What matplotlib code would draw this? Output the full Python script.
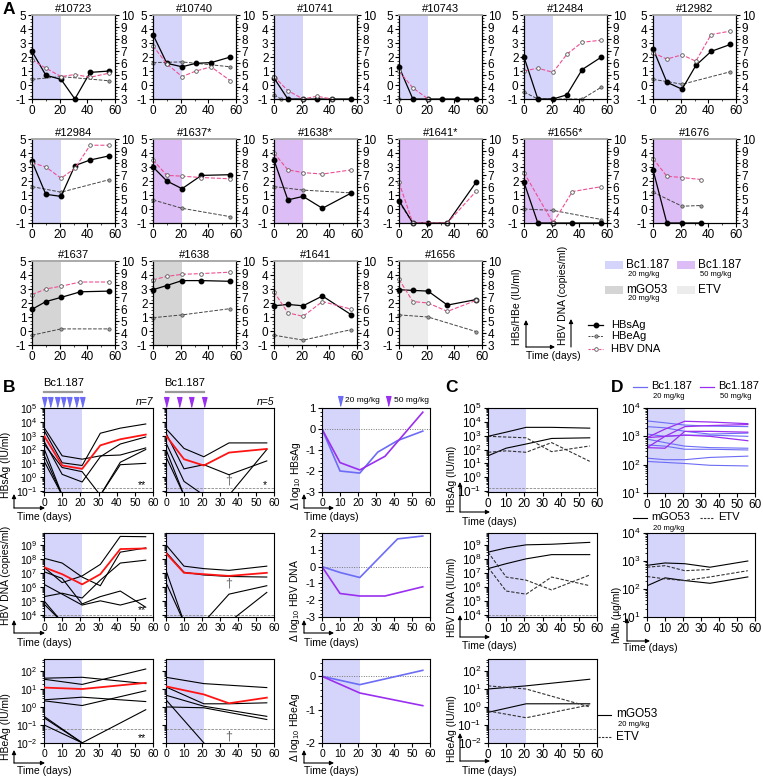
import numpy as np
import matplotlib
matplotlib.use('Agg')
import matplotlib.pyplot as plt
from matplotlib.patches import Rectangle
from matplotlib.ticker import MultipleLocator, LogLocator, NullFormatter, FixedLocator

plt.rcParams['font.family'] = ['Liberation Sans', 'DejaVu Sans']
plt.rcParams['mathtext.fontset'] = 'custom'
plt.rcParams['mathtext.rm'] = 'Liberation Sans'
plt.rcParams['mathtext.it'] = 'Liberation Sans:italic'
plt.rcParams['mathtext.bf'] = 'Liberation Sans:bold'
plt.rcParams['axes.unicode_minus'] = False
plt.rcParams['axes.linewidth'] = 0.8

nan = np.nan

# ---------------- panel A: single mice (log10 HBsAg/HBeAg left, log10 DNA right)
a_ids = ['#10723', '#10740', '#10741', '#10743', '#12484', '#12982',
         '#12984', '#1637*', '#1638*', '#1641*', '#1656*', '#1676',
         '#1637', '#1638', '#1641', '#1656']
a_group = ['b20'] * 7 + ['b50'] * 5 + ['mgo', 'mgo', 'etv', 'etv']
a_hbs_t = [[0, 10, 21, 31, 42, 56]] * 7 + [[0, 10, 21, 35, 56]] * 4 + [[0, 10, 21, 35]] + [[0, 10, 21, 35, 56]] * 4
a_hbs = [[2.4, 0.7, 0.4, -1, 0.9, 1.0],
         [3.6, 1.55, 1.3, 1.55, 1.6, 2.0],
         [0.5, -1, -1, -1, -1, -1],
         [1.3, -1, -1, -1, -1, -1],
         [2.0, -1, -1, -0.7, 1.1, 2.0],
         [2.6, 0.2, -0.3, 1.4, 2.4, 2.9],
         [3.4, 1.05, 0.9, 3.1, 3.5, 3.8],
         [3.0, 2.0, 1.45, 2.4, 2.45],
         [3.5, 0.65, 0.9, 0.05, 1.15],
         [0.6, -1, -1, -1, 1.95],
         [1.9, -1, -1, -1, -1],
         [2.8, -1, -1, -1],
         [1.55, 2.1, 2.4, 2.8, 2.85],
         [2.95, 3.25, 3.6, 3.6, 3.55],
         [1.8, 1.9, 1.8, 2.5, 1.15],
         [2.95, 2.9, 2.85, 1.85, 2.25]]
a_hbe_t = [[0, 21, 56], [0, 21, 56], [0, 5], [0], [0, 10, 42, 56], [0, 10, 21, 56],
           [0, 21, 56], [0, 21, 56], [0, 21, 56], [0, 10], [0, 21, 56], [0, 21, 35],
           [0, 21, 56], [0, 21, 56], [0, 21, 56], [0, 21, 56]]
a_hbe = [[0.4, 0.6, 0.3], [1.6, 1.65, 1.3], [-0.7, -1], [-1], [-0.5, -1, -1, -0.15],
         [0.4, 0.25, 0.05, 0.95], [1.6, 1.2, 2.1], [0.65, 0.05, -0.55], [1.6, 1.35, 1.15],
         [0.5, -1], [0.0, -0.1, -0.75], [1.2, 0.2, 0.25], [-0.3, 0.15, 0.15],
         [0.95, 1.15, 1.6], [-0.3, -0.65, 0.1], [1.15, 1.0, -0.05]]
a_dna_t = [[0, 10, 21, 31, 42, 56], [0, 10, 21, 31, 42, 56], [0, 10, 21, 31, 42], [0, 10, 21],
           [0, 10, 21, 31, 42, 56], [0, 10, 21, 31, 42, 56], [0, 10, 21, 31, 42, 56],
           [0, 10, 21, 35, 56], [0, 10, 21, 35, 56], [0, 10, 35, 56], [0, 21, 35, 56],
           [0, 10, 21, 35], [0, 10, 21, 35, 56], [0, 10, 21, 35, 56], [0, 10, 21, 35, 56],
           [0, 10, 21, 35, 56]]
a_dna = [[6.27, 5.57, 4.87, 5.04, 4.81, 5.16],
         [7.43, 5.92, 4.87, 5.33, 5.68, 4.52],
         [4.87, 3.7, 3.0, 3.23, 3.0],
         [5.33, 3.93, 3.0],
         [5.33, 5.57, 5.22, 6.73, 7.73, 7.9],
         [6.85, 6.33, 6.68, 6.15, 8.37, 8.66],
         [8.02, 7.67, 6.73, 7.55, 9.48, 9.48],
         [8.25, 6.97, 6.9, 6.79, 6.68],
         [8.83, 7.43, 7.2, 7.08, 7.43],
         [6.38, 3.0, 3.0, 5.68],
         [7.2, 3.0, 5.62, 6.03],
         [8.37, 6.9, 6.79, 6.62],
         [7.2, 7.67, 7.9, 8.25, 8.25],
         [8.43, 8.72, 8.89, 8.95, 9.07],
         [7.43, 5.68, 5.39, 6.62, 5.98],
         [8.48, 6.62, 6.5, 5.8, 6.73]]

# ---------------- panel B: groups (20 mg/kg left, 50 mg/kg middle, deltas right)
b_t20 = [0, 10, 21, 31, 42, 56]
b_t50 = [0, 10, 21, 35, 56]
b_te20 = [0, 21, 56]
b_te50 = [0, 21, 35, 56]
b_dose20 = [0, 3.5, 7, 10.5, 14, 17.5, 21]
b_dose50 = [0, 7, 14, 21]
b_hbs20 = [[4000, 35, 20, 35, 40, 130],
           [2500, 11, 7, 1500, 3500, 7000],
           [400, 1.6, 0.45, 30, 250, 800],
           [250, 5, 2.5, 0.05, 8, 10],
           [120, 0.05, 0.05, 0.05, 12, 100],
           [40, 0.05],
           [15, 0.05]]
b_hbs20_mean = [1000, 7, 4, 200, 550, 1200]
b_hbs50 = [[3200, 120, 30, 300, 300],
           [1500, 4, 8, 1.5, 15],
           [300, 0.5, 0.05, 0.05, 100],
           [100, 0.05],
           [30, 0.05]]
b_hbs50_mean = [1000, 20, 7, 60, 110]
b_dna20 = [[1.1e8, 5e7, 5e6, 1.2e6, 3e8, 6e8],
           [2.5e7, 2e6, 6e6, 4e7, 4e9, 3.8e9],
           [1.5e6, 3e5, 5e4, 1e5, 5e4, 1.5e5],
           [2e5, 3.5e5, 1.6e5, 3e6, 5e7, 8e7],
           [1.2e7, 4e6, 6e4, 2e5, 5e5, 3.5e4],
           [1e5, 3e3],
           [6e4, 3e3]]
b_dna20_mean = [2.5e7, 8e6, 1.5e6, 8e6, 5e8, 5.5e8]
b_dna50 = [[1e9, 3e7, 2e7, 1.5e7, 3e7],
           [3e8, 1.1e7, 7e6, 5.5e6, 5e6],
           [1.5e7, 3e3, 3e3, 3e3, 4e5],
           [2e6, 3e3, 3e3, 3e5, 1.2e6]]
b_dna50_mean = [2.5e8, 1e7, 8e6, 6e6, 1e7]
b_hbe20 = [[40, 45, 20], [35, 18, 130], [2.5, 3.5, 2], [2.2, 1.2, 8],
           [0.3, 0.01, 0.7], [0.25, 0.01], [0.1, 0.01]]
b_hbe20_mean = [12, 10, 22]
b_hbe50 = [[45, 20, nan, 12], [13, 1.5, 1.5, 1.7], [4.5, 1.1, nan, 0.3],
           [1.0, 0.9, nan, 0.2], [2.5, 0.01]]
b_hbe50_mean = [14, 5, 1.6, 3.3]
b_dhbs_t20 = [0, 10, 21, 31, 42, 56]
b_dhbs20 = [0, -2.0, -2.1, -1.1, -0.55, -0.1]
b_dhbs_t50 = [0, 10, 21, 35, 56]
b_dhbs50 = [0, -1.6, -1.95, -1.3, 0.8]
b_ddna_t20 = [0, 10, 21, 42, 56]
b_ddna20 = [0, -0.35, -0.65, 1.65, 1.82]
b_ddna_t50 = [0, 10, 21, 35, 56]
b_ddna50 = [0, -1.6, -1.75, -1.75, -1.2]
b_dhbe_t = [0, 21, 56]
b_dhbe20 = [0, -0.25, 0.18]
b_dhbe50 = [0, -0.5, -0.88]

# ---------------- panel C: controls
c_t = [0, 10, 21, 35, 56]
c_te = [0, 21, 56]
c_hbs_mgo = [[35, 125, 250, 630, 700], [900, 1800, 4000, 4000, 3500]]
c_hbs_etv = [[63, 80, 63, 316, 14], [900, 800, 700, 70, 180]]
c_dna_mgo = [[2e7, 4.5e7, 1e8, 2e8, 2e8], [3e8, 6e8, 1e9, 1.1e9, 1.5e9]]
c_dna_etv = [[2.5e7, 5e5, 3e5, 5e6, 1.2e6], [3e8, 5e6, 3e6, 6e5, 7e6]]
c_hbe_mgo = [[0.5, 1.5, 1.5], [10, 15, 35]]
c_hbe_etv = [[0.6, 0.25, 1.3], [15, 10, 1.0]]

# ---------------- panel D: hAlb
d_t = [0, 10, 21, 35, 56]
d_alb20 = [[3500, 3000, 2500, 2300, 2200], [2200, 2000, 1500, 1200, 1300],
           [1200, 1000, 1100, 1100, 1000], [800, 600, 450, 400, 380],
           [500, 450, 350, 350, 330], [170, 150, 150, 180, 200],
           [130, 120, 110, 95, 90]]
d_alb50 = [[900, 1800, 3400, 3200, 2800], [400, 380, 1500, 1500, 1400],
           [900, 1000, 1100, 1000, 700], [400, 1000, 2200, 2400, 2600]]
d_alb_mgo = [[700, 850, 800, 600, 1000], [130, 250, 200, 160, 270]]
d_alb_etv = [[600, 680, 450, 500], [280, 230, 200, 270, 450]]

SH = {'b20': '#d5d5fb', 'b50': '#dcbdf6', 'mgo': '#d5d5d5', 'etv': '#ececec'}
BLUE = '#6c6cf6'
PURP = '#9a2ff0'
PINK = '#ee4f93'

W, H = 763, 777
fig = plt.figure(figsize=(W / 100, H / 100), dpi=100)


def px_axes(l, t, r, b):
    return fig.add_axes([l / W, 1 - b / H, (r - l) / W, (b - t) / H])


def lines(ax, t, rows, **kw):
    for v in rows:
        v = np.array(v, float)
        tt = np.array(t[:len(v)], float)
        m = ~np.isnan(v)
        ax.plot(tt[m], v[m], **kw)


def xbox(ax, size):
    ax.set_xlim(0, 60)
    ax.set_xticks(range(0, 61, 10))
    ax.tick_params(direction='out', length=3, width=0.8, labelsize=size, pad=1.5)
    ax.tick_params(which='minor', direction='out', length=1.5, width=0.6)
    ax.axvspan(0, 21, color=SH['b20'], lw=0, zorder=0)


def logy(ax, lo, hi, decs, labels=True):
    ax.set_yscale('log')
    ax.set_ylim(lo, hi)
    ax.yaxis.set_major_locator(FixedLocator([10.0 ** k for k in decs]))
    ax.yaxis.set_minor_locator(LogLocator(base=10, subs=np.arange(2, 10), numticks=50))
    ax.yaxis.set_minor_formatter(NullFormatter())
    if not labels:
        ax.tick_params(axis='y', labelleft=False)


# ---- panel A
A_LEFT = [32, 153, 274, 399, 524, 653]
A_TOP = [15, 139, 261]
for i in range(len(a_ids)):
    r, c = divmod(i, 6)
    ax = px_axes(A_LEFT[c], A_TOP[r], A_LEFT[c] + 83, A_TOP[r] + 84)
    ax2 = ax.twinx()
    ax.axvspan(0, 21, color=SH[a_group[i]], lw=0, zorder=0)
    ax.plot(a_hbe_t[i], a_hbe[i], ls='--', color='#444444', lw=0.7, marker='o', ms=2.4,
            mfc='#a0a0a0', mec='#444444', mew=0.5, clip_on=False, zorder=3)
    ax.plot(a_hbs_t[i], a_hbs[i], '-', color='k', lw=0.9, marker='o', ms=3.2,
            clip_on=False, zorder=4)
    ax2.plot(a_dna_t[i], a_dna[i], ls='--', color=PINK, lw=0.8, marker='o', ms=2.6,
             mfc='white', mec='#555555', mew=0.6, clip_on=False)
    ax.set_xlim(0, 60)
    ax.set_ylim(-1, 5)
    ax2.set_ylim(3, 10)
    ax.set_xticks([0, 20, 40, 60])
    ax.xaxis.set_minor_locator(MultipleLocator(10))
    ax.set_yticks(range(-1, 6))
    ax2.set_yticks(range(3, 11))
    ax.yaxis.set_minor_locator(MultipleLocator(0.25))
    ax2.yaxis.set_minor_locator(MultipleLocator(0.25))
    for a in (ax, ax2):
        a.tick_params(direction='out', length=3, width=0.8, labelsize=8.5, pad=1)
        a.tick_params(which='minor', direction='out', length=1.5, width=0.5)
        a.spines['top'].set_color('#aaaaaa')
        a.spines['top'].set_linewidth(1.2)
    ax.set_title(a_ids[i], fontsize=8, pad=2)

# ---- panel B
BX = [(44, 153), (166, 274), (322, 430)]
BY = [(408, 492), (533, 617), (659, 743)]
blk = dict(color='k', lw=0.8)
red = dict(color='#ff1414', lw=1.3, zorder=5)

b_rows = [
    (b_t20, b_hbs20, b_hbs20_mean, b_t50, b_hbs50, b_hbs50_mean, (0.085, 1e5), range(-1, 6), 0.17),
    (b_t20, b_dna20, b_dna20_mean, b_t50, b_dna50, b_dna50_mean, (7e3, 7e9), range(4, 10), 1e4),
    (b_te20, b_hbe20, b_hbe20_mean, b_te50, b_hbe50, b_hbe50_mean, (0.0098, 470), range(-2, 3), 0.06),
]
for r, (t1, v1, m1, t2, v2, m2, yl, decs, lod) in enumerate(b_rows):
    y0, y1 = BY[r]
    for c, (t, v, m) in enumerate([(t1, v1, m1), (t2, v2, m2)]):
        ax = px_axes(BX[c][0], y0, BX[c][1], y1)
        xbox(ax, 7.5)
        logy(ax, yl[0], yl[1], decs, labels=(c == 0))
        ax.axhline(lod, color='#888888', ls='--', lw=0.6, dashes=(3, 1.5))
        lines(ax, t, v, **blk)
        lines(ax, t, [m], **red)
        tr = ax.get_xaxis_transform()
        if c == 0:
            ax.text(54, [0.08, 0.08, 0.06][r], '**', transform=tr, fontsize=7.5, ha='center', va='center')
        else:
            if r == 0:
                ax.text(55, 0.08, '*', transform=tr, fontsize=7.5, ha='center', va='center')
            ax.text(35, [0.14, 0.4, 0.08][r], '\u2020', transform=tr, fontsize=9, ha='center',
                    va='center', color='#666666')
        if r == 0:
            days = b_dose20 if c == 0 else b_dose50
            col = BLUE if c == 0 else PURP
            ax.plot(days, [1.075] * len(days), transform=tr, ls='none',
                    marker=[(-0.5, 1), (0.5, 1), (0, -1)], ms=7, color=col, clip_on=False)
            ax.plot([0, 21], [1.185, 1.185], transform=tr, color='#999999', lw=1.6, clip_on=False)
            ax.text(10.5, 1.3, 'Bc1.187', transform=tr, fontsize=8, ha='center', va='center')
            ax.text(60, 1.07, 'n=7' if c == 0 else 'n=5', transform=tr, fontsize=7.5,
                    style='italic', ha='right', va='center')

d_rows = [
    (b_dhbs_t20, b_dhbs20, b_dhbs_t50, b_dhbs50, (-3, 1), range(-3, 2)),
    (b_ddna_t20, b_ddna20, b_ddna_t50, b_ddna50, (-3, 2), range(-3, 3)),
    (b_dhbe_t, b_dhbe20, b_dhbe_t, b_dhbe50, (-2, 0.52), range(-2, 1)),
]
for r, (t1, v1, t2, v2, yl, yt) in enumerate(d_rows):
    ax = px_axes(BX[2][0], BY[r][0], BX[2][1], BY[r][1])
    xbox(ax, 7.5)
    ax.set_ylim(*yl)
    ax.set_yticks(list(yt))
    ax.yaxis.set_minor_locator(MultipleLocator(0.2))
    ax.tick_params(axis='y', labelsize=8)
    ax.axhline(0, color='#777777', ls=(0, (1, 1.5)), lw=0.7)
    ax.plot(t1, v1, color=BLUE, lw=1.2)
    ax.plot(t2, v2, color=PURP, lw=1.2)

# ---- panel C
CX = (488, 597)
c_rows = [
    (c_t, c_hbs_mgo, c_hbs_etv, (0.085, 1e5), range(-1, 6), 0.17),
    (c_t, c_dna_mgo, c_dna_etv, (7e3, 7e9), range(4, 10), 1e4),
    (c_te, c_hbe_mgo, c_hbe_etv, (0.0098, 470), range(-2, 3), 0.06),
]
for r, (t, vm, ve, yl, decs, lod) in enumerate(c_rows):
    ax = px_axes(CX[0], BY[r][0], CX[1], BY[r][1])
    xbox(ax, 8.5)
    logy(ax, yl[0], yl[1], decs)
    ax.tick_params(axis='y', labelsize=8.5)
    ax.axhline(lod, color='#888888', ls='--', lw=0.6, dashes=(3, 1.5))
    lines(ax, t, vm, color='k', lw=0.8)
    lines(ax, t, ve, color='#333333', lw=0.8, ls='--', dashes=(3, 1.5))

# ---- panel D
DX = (647, 755)
ax = px_axes(DX[0], BY[0][0], DX[1], BY[0][1] + 1)
xbox(ax, 8.5)
logy(ax, 10, 1e4, range(1, 5))
ax.tick_params(axis='y', labelsize=8.5)
lines(ax, d_t, d_alb20, color=BLUE, lw=0.8)
lines(ax, d_t, d_alb50, color=PURP, lw=0.9)

ax = px_axes(DX[0], BY[1][0], DX[1], BY[1][1])
xbox(ax, 8.5)
logy(ax, 10, 1e4, range(1, 5))
ax.tick_params(axis='y', labelsize=8.5)
lines(ax, d_t, d_alb_mgo, color='k', lw=0.8)
lines(ax, d_t, d_alb_etv, color='#333333', lw=0.8, ls='--', dashes=(3, 1.5))

# ---- overlay with legends, schematic axes and panel letters (pixel coords)
ov = fig.add_axes([0, 0, 1, 1])
ov.set_xlim(0, W)
ov.set_ylim(H, 0)
ov.axis('off')
ov.patch.set_alpha(0)
ov.set_zorder(10)

for x, y, s in [(3, 9, 'A'), (3, 387, 'B'), (445, 387, 'C'), (611, 387, 'D')]:
    ov.text(x, y, s, fontsize=12.5, fontweight='bold', ha='left', va='center')

arw = dict(arrowstyle='-|>', lw=0.8, color='k', mutation_scale=6, shrinkA=0, shrinkB=0)


def schem(xa, ya, xe, yt, label, xl, yb, tx, ty):
    ov.annotate('', xy=(xa, yt), xytext=(xa, ya), arrowprops=arw)
    ov.annotate('', xy=(xe, ya), xytext=(xa, ya), arrowprops=arw)
    ov.text(xl, yb, label, rotation=90, ha='center', va='bottom', fontsize=7.5)
    ov.text(tx, ty, 'Time (days)', ha='left', va='center', fontsize=7.5)


schem(14, 508, 45, 494, 'HBsAg (IU/ml)', 6, 498, 17, 517)
schem(14, 633, 45, 620, 'HBV DNA (copies/ml)', 6, 625, 17, 643)
schem(14, 763, 45, 750, 'HBeAg (IU/ml)', 6, 760, 17, 771)
schem(304, 508, 334, 494, '\u0394 log$_{10}$ HBsAg', 296, 510, 304, 517)
schem(304, 633, 334, 620, '\u0394 log$_{10}$ HBV DNA', 295, 642, 304, 643)
schem(304, 763, 334, 750, '\u0394 log$_{10}$ HBeAg', 295, 762, 304, 771)
schem(460, 512, 490, 482, 'HBsAg (IU/ml)', 452, 512, 462, 522)
schem(460, 637, 490, 615, 'HBV DNA (IU/ml)', 452, 637, 462, 646)
schem(460, 761, 490, 733, 'HBeAg (IU/ml)', 452, 762, 462, 771)
schem(627, 641, 650, 618, 'hAlb (\u00b5g/ml)', 617, 643, 623, 648)

# A schematic axes and legends
ov.annotate('', xy=(526, 320), xytext=(526, 347), arrowprops=arw)
ov.annotate('', xy=(555, 347), xytext=(526, 347), arrowprops=arw)
ov.annotate('', xy=(571, 319), xytext=(571, 347), arrowprops=arw)
ov.text(517, 345, 'HBs/HBe (IU/ml)', rotation=90, ha='center', va='bottom', fontsize=7.5)
ov.text(563, 345, 'HBV DNA (copies/ml)', rotation=90, ha='center', va='bottom', fontsize=7.5)
ov.text(553, 356, 'Time (days)', ha='center', va='center', fontsize=7.5)

for x, y, g, name, sub in [(605, 261, 'b20', 'Bc1.187', '20 mg/kg'), (677, 261, 'b50', 'Bc1.187', '50 mg/kg'),
                           (605, 286, 'mgo', 'mGO53', '20 mg/kg'), (677, 286, 'etv', 'ETV', '')]:
    ov.add_patch(Rectangle((x, y), 18, 8, color=SH[g], lw=0))
    ov.text(x + 21, y + 4, name, fontsize=8.5, ha='left', va='center')
    if sub:
        ov.text(x + 23, y + 13, sub, fontsize=5.5, ha='left', va='center')

ov.plot([588, 603], [325, 325], color='k', lw=0.9)
ov.plot([595.5], [325], 'o', color='k', ms=3.2)
ov.plot([588, 603], [336, 336], color='#444444', lw=0.7, ls='--', dashes=(2, 1.2))
ov.plot([595.5], [336], 'o', ms=2.4, mfc='#a0a0a0', mec='#444444', mew=0.5)
ov.plot([588, 603], [349, 349], color=PINK, lw=0.8, ls='--', dashes=(2, 1.2))
ov.plot([595.5], [349], 'o', ms=2.6, mfc='white', mec='#555555', mew=0.6)
ov.text(611, 325, 'HBsAg', fontsize=8, va='center')
ov.text(611, 336, 'HBeAg', fontsize=8, va='center')
ov.text(611, 349, 'HBV DNA', fontsize=8, va='center')

# B delta legend
mk = [(-0.5, 1), (0.5, 1), (0, -1)]
ov.plot([340], [401], ls='none', marker=mk, ms=7, color=BLUE)
ov.text(345, 401, '20 mg/kg', fontsize=6, va='center')
ov.plot([388], [401], ls='none', marker=mk, ms=7, color=PURP)
ov.text(394, 401, '50 mg/kg', fontsize=6, va='center')

# C legend
ov.plot([598, 611], [715, 715], color='k', lw=0.8)
ov.text(616, 714, 'mGO53', fontsize=8.5, va='center')
ov.text(618, 725, '20 mg/kg', fontsize=5.5, va='center')
ov.plot([598, 611], [737, 737], color='#333333', lw=0.8, ls='--', dashes=(2, 1.2))
ov.text(616, 737, 'ETV', fontsize=8.5, va='center')

# D legends
ov.plot([633, 647], [387, 387], color=BLUE, lw=0.9)
ov.text(651, 386, 'Bc1.187', fontsize=8, va='center')
ov.text(653, 397, '20 mg/kg', fontsize=5.5, va='center')
ov.plot([700, 714], [387, 387], color=PURP, lw=0.9)
ov.text(718, 386, 'Bc1.187', fontsize=8, va='center')
ov.text(720, 397, '50 mg/kg', fontsize=5.5, va='center')
ov.plot([633, 647], [518, 518], color='k', lw=0.8)
ov.text(651, 517, 'mGO53', fontsize=8, va='center')
ov.text(653, 528, '20 mg/kg', fontsize=5.5, va='center')
ov.plot([700, 714], [518, 518], color='#333333', lw=0.8, ls='--', dashes=(2, 1.2))
ov.text(718, 517, 'ETV', fontsize=8, va='center')

fig.savefig('out.png', dpi=100)
